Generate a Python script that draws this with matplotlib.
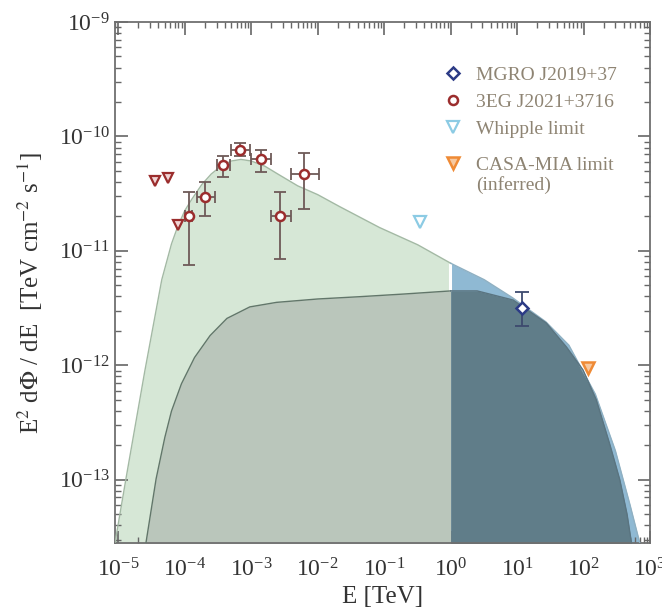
import matplotlib
matplotlib.use("Agg")
import matplotlib.pyplot as plt
import numpy as np
from matplotlib.ticker import LogLocator, NullFormatter

plt.rcParams["font.family"] = ["Liberation Serif", "DejaVu Serif"]
plt.rcParams["mathtext.fontset"] = "stix"

# total model (outer envelope)
outer_E = [8.9e-6, 1.32e-5, 2.5e-5, 4.5e-5, 6.3e-5, 7.9e-5, 1.0e-4, 1.26e-4, 1.8e-4,
           2.5e-4, 3.5e-4, 5.0e-4, 7.0e-4, 1.0e-3, 1.6e-3, 2.5e-3, 5.0e-3, 1.0e-2,
           2.1e-2, 8.5e-2, 0.32, 1.0, 3.2, 8.5, 27.0, 60.0, 150.0, 300.0, 500.0, 700.0]
outer_F = [2.8e-14, 1.07e-13, 8.9e-13, 5.6e-12, 1.15e-11, 1.66e-11, 2.25e-11, 2.8e-11, 3.8e-11,
           4.7e-11, 5.5e-11, 6.1e-11, 6.3e-11, 6.1e-11, 5.5e-11, 4.7e-11, 3.7e-11, 3.1e-11,
           2.45e-11, 1.6e-11, 1.13e-11, 7.8e-12, 5.6e-12, 3.9e-12, 2.4e-12, 1.5e-12, 5.6e-13, 1.8e-13,
           6.0e-14, 2.8e-14]

# second component (inner curve)
inner_E = [2.6e-5, 3.7e-5, 5.0e-5, 6.3e-5, 8.9e-5, 1.4e-4, 2.4e-4, 4.3e-4, 9.5e-4,
           2.4e-3, 1.0e-2, 4.3e-2, 0.2, 1.0, 2.5, 8.7, 27.5, 55.0, 98.0, 155.0,
           250.0, 350.0, 450.0, 525.0]
inner_F = [2.8e-14, 1.02e-13, 2.34e-13, 3.98e-13, 6.9e-13, 1.17e-12, 1.82e-12, 2.57e-12, 3.24e-12,
           3.55e-12, 3.8e-12, 3.98e-12, 4.2e-12, 4.47e-12, 4.47e-12, 3.72e-12, 2.34e-12, 1.45e-12,
           9.1e-13, 5.0e-13, 2.0e-13, 1.0e-13, 5.0e-14, 2.8e-14]

# 3EG J2021+3716
egret_E = [1.15e-4, 2.0e-4, 3.8e-4, 6.7e-4, 1.38e-3, 2.7e-3, 6.2e-3]
egret_F = [2.0e-11, 2.95e-11, 5.6e-11, 7.6e-11, 6.3e-11, 2.0e-11, 4.7e-11]
egret_F_hi = [3.3e-11, 4.0e-11, 6.8e-11, 8.7e-11, 7.6e-11, 3.3e-11, 7.1e-11]
egret_F_lo = [7.6e-12, 2.0e-11, 4.4e-11, 6.8e-11, 4.9e-11, 8.5e-12, 2.3e-11]
egret_E_lo = [1.0e-4, 1.5e-4, 3.0e-4, 4.9e-4, 9.8e-4, 2.0e-3, 3.9e-3]
egret_E_hi = [1.3e-4, 2.8e-4, 4.8e-4, 9.5e-4, 2.0e-3, 3.9e-3, 1.05e-2]

# EGRET upper limits
egret_ul_E = [3.6e-5, 5.6e-5, 7.9e-5]
egret_ul_F = [4.1e-11, 4.3e-11, 1.7e-11]

# MGRO J2019+37
mgro_E = [12.0]
mgro_F = [3.2e-12]
mgro_F_hi = [4.4e-12]
mgro_F_lo = [2.2e-12]

whipple_E = [0.34]
whipple_F = [1.8e-11]
casa_E = [117.0]
casa_F = [9.5e-13]

E_SPLIT = 1.0
Y_FLOOR = 1e-14
LEGEND_COLOR = "#8e8473"


def main() -> None:
    oE, oF = np.array(outer_E), np.array(outer_F)
    iE, iF = np.array(inner_E), np.array(inner_F)

    fig = plt.figure(figsize=(6.62, 6.10), dpi=100)
    ax = fig.add_axes([0.1737, 0.1098, 0.8083, 0.8541])
    ax.set_xscale("log")
    ax.set_yscale("log")

    lo_o, hi_o = oE <= E_SPLIT, oE >= E_SPLIT
    lo_i, hi_i = iE <= E_SPLIT, iE >= E_SPLIT

    ax.fill_between(oE[lo_o], oF[lo_o], Y_FLOOR, color="#d6e7d6", lw=0, zorder=1)
    ax.fill_between(oE[hi_o], oF[hi_o], Y_FLOOR, color="#8fb9d3", lw=0, zorder=1)
    ax.fill_between(iE[lo_i], iF[lo_i], Y_FLOOR, color="#bac6bb", lw=0, zorder=2)
    ax.fill_between(iE[hi_i], iF[hi_i], Y_FLOOR, color="#607d89", lw=0, zorder=2)

    ax.plot(oE[lo_o], oF[lo_o], color="#a3b9a4", lw=1.0, zorder=3)
    ax.plot(oE[hi_o], oF[hi_o], color="#8fb0c2", lw=1.0, zorder=3)
    ax.plot(iE[lo_i], iF[lo_i], color="#62766a", lw=1.0, zorder=3)
    ax.plot(iE[hi_i], iF[hi_i], color="#5a7480", lw=1.0, zorder=3)

    # white gap between the two parts of the envelope at 1 TeV
    ax.vlines(0.97, iF[list(iE).index(E_SPLIT)], oF[list(oE).index(E_SPLIT)],
              color="white", lw=2.2, zorder=2.5)

    eb_color = "#6e5a58"
    yerr = [np.array(egret_F) - np.array(egret_F_lo), np.array(egret_F_hi) - np.array(egret_F)]
    xerr = [np.array(egret_E) - np.array(egret_E_lo), np.array(egret_E_hi) - np.array(egret_E)]
    ax.errorbar(egret_E, egret_F, yerr=yerr, xerr=xerr, fmt="none", ecolor=eb_color,
                elinewidth=1.3, capsize=4, capthick=1.3, zorder=4)
    egret_h, = ax.plot(egret_E, egret_F, "o", ms=6.5, mfc="white", mec="#9b2d2d", mew=1.8,
                       zorder=5)
    ax.plot(egret_ul_E, egret_ul_F, "v", ms=7, mfc="#f1d6d6", mec="#9b2d2d", mew=1.6, zorder=5)

    ax.errorbar(mgro_E, mgro_F,
                yerr=[[mgro_F[0] - mgro_F_lo[0]], [mgro_F_hi[0] - mgro_F[0]]],
                fmt="none", ecolor="#3d4a6e", elinewidth=1.3, capsize=5, capthick=1.3, zorder=4)
    mgro_h, = ax.plot(mgro_E, mgro_F, "D", ms=6.5, mfc="white", mec="#2c3b86", mew=1.8,
                      zorder=5)
    whipple_h, = ax.plot(whipple_E, whipple_F, "v", ms=8, mfc="white", mec="#8ccbe4", mew=1.6,
                         zorder=5)
    casa_h, = ax.plot(casa_E, casa_F, "v", ms=8, mfc="#f7c9a0", mec="#ef8a35", mew=1.8,
                      zorder=5)

    leg_kw = dict(loc="upper left", frameon=False, fontsize=14, handletextpad=0.7,
                  labelspacing=0.48, handlelength=1.0, borderpad=0, borderaxespad=0)
    leg1 = ax.legend([mgro_h, egret_h, whipple_h],
                     ["MGRO J2019+37", "3EG J2021+3716", "Whipple limit"],
                     bbox_to_anchor=(0.613, 0.9155), **leg_kw)
    ax.add_artist(leg1)
    leg2 = ax.legend([casa_h], ["CASA-MIA limit"], bbox_to_anchor=(0.613, 0.743), **leg_kw)
    for leg in (leg1, leg2):
        for t in leg.get_texts():
            t.set_color(LEGEND_COLOR)

    # second line of the CASA-MIA entry, hung under its label
    ax.annotate("(inferred)", xy=(0, 0), xycoords=leg2.get_texts()[0],
                xytext=(0, -20), textcoords="offset pixels", ha="left", va="bottom",
                fontsize=14, color=LEGEND_COLOR, zorder=10)

    ax.set_xlim(8.9e-6, 1.0e3)
    ax.set_ylim(2.8e-14, 1.0e-9)

    ax.xaxis.set_major_locator(LogLocator(base=10, numticks=20))
    ax.xaxis.set_minor_locator(LogLocator(base=10, subs=np.arange(2, 10), numticks=20))
    ax.yaxis.set_major_locator(LogLocator(base=10, numticks=20))
    ax.yaxis.set_minor_locator(LogLocator(base=10, subs=np.arange(2, 10), numticks=20))
    ax.xaxis.set_minor_formatter(NullFormatter())
    ax.yaxis.set_minor_formatter(NullFormatter())

    ax.tick_params(which="both", direction="in", top=True, right=True, colors="#666666",
                   labelcolor="#333333", labelsize=17)
    ax.tick_params(which="major", length=9, width=1.2)
    ax.tick_params(which="minor", length=4.5, width=1.0)
    ax.tick_params(axis="x", pad=11)
    for sp in ax.spines.values():
        sp.set_color("#6f6f6f")
        sp.set_linewidth(1.3)

    ax.set_xlabel("E [TeV]", fontsize=18, color="#333333", labelpad=3)
    ax.set_ylabel(r"E$^2$ d$\Phi$ / dE  [TeV cm$^{-2}$ s$^{-1}$]", fontsize=18,
                  color="#333333")
    ax.yaxis.set_label_coords(-0.131, 0.48)

    fig.savefig("out.png", dpi=100)


if __name__ == "__main__":
    main()
